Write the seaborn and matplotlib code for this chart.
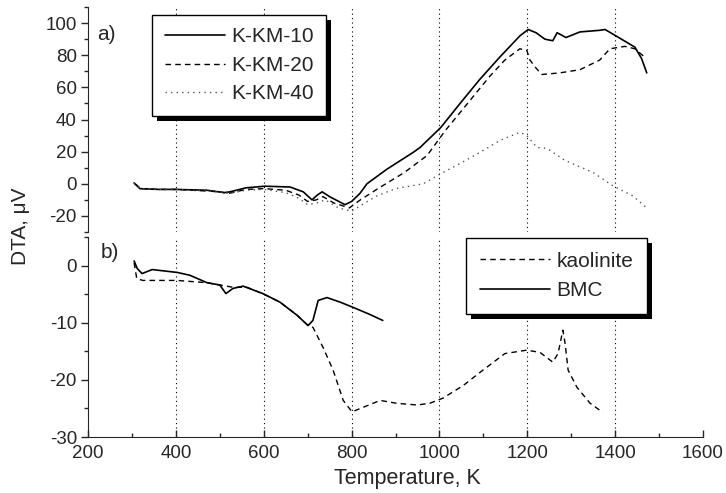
import numpy as np
import pandas as pd
import matplotlib
matplotlib.use('Agg')
import matplotlib.pyplot as plt
import seaborn as sns
from matplotlib.patches import Rectangle
from matplotlib.ticker import MultipleLocator

# panel a) DTA curves
kkm10_T = [305, 318, 360, 400, 470, 510, 523, 560, 603, 660, 690, 710, 722, 733, 750, 785,
           800, 819, 835, 880, 940, 956, 1003, 1047, 1092, 1138, 1183, 1202, 1220, 1240, 1258,
           1268, 1288, 1320, 1365, 1377, 1402, 1445, 1460, 1472]
kkm10_v = [0.5, -3, -3.5, -3.5, -4, -5.5, -5, -2.5, -1.5, -2, -5, -10, -7, -5, -8, -13,
           -11, -6, 0, 9, 19.5, 22.6, 35, 50, 65, 79, 92, 96, 94, 90, 89,
           94, 91, 94.5, 95.5, 96, 92, 85, 78, 69]

kkm20_T = [305, 320, 360, 400, 470, 500, 520, 560, 600, 650, 680, 700, 720, 735, 760, 795,
           820, 860, 920, 972, 1013, 1070, 1115, 1149, 1183, 1199, 1206, 1220, 1233, 1274,
           1320, 1365, 1388, 1422, 1445, 1468]
kkm20_v = [0.5, -3, -3.5, -3.5, -4.5, -5, -6, -3.5, -3, -4, -7, -11, -10, -8, -12, -15,
           -10, -3, 7, 17.6, 33, 52, 67, 77, 84, 83, 77, 72, 68, 69,
           71, 77, 84, 85.5, 84, 78.6]

kkm40_T = [305, 320, 360, 400, 470, 500, 520, 560, 600, 650, 680, 700, 720, 740, 770, 800,
           830, 858, 900, 963, 1001, 1047, 1092, 1138, 1183, 1199, 1222, 1245, 1286, 1350,
           1395, 1440, 1472]
kkm40_v = [0.5, -3, -3.5, -3.5, -4.5, -5, -6, -4, -3.5, -5.5, -9, -13, -12, -10, -15, -17,
           -12, -7.5, -3, 0, 6, 12.6, 19.5, 27, 32, 30, 22.6, 22, 14.5, 7,
           -1.3, -7.5, -15]

# panel b) DTA curves
kaol_T = [305, 311, 325, 403, 471, 530, 562, 600, 637, 676, 701, 712, 735, 758, 781, 801,
          865, 903, 949, 978, 1008, 1054, 1099, 1149, 1199, 1229, 1258, 1270, 1281, 1286,
          1293, 1313, 1343, 1372]
kaol_v = [0.5, -2.3, -2.6, -2.6, -3, -3.8, -3.8, -5, -6.4, -8.7, -10.5, -10.8, -14.3, -18.3,
          -23.6, -25.6, -23.6, -24.1, -24.4, -24.1, -23.2, -21, -18.3, -15.4, -14.8, -15.2,
          -16.9, -15.4, -11.3, -13.6, -18.3, -21.3, -24.1, -25.7]

bmc_T = [305, 312, 323, 346, 403, 432, 471, 500, 514, 530, 553, 598, 637, 676, 701, 712, 724,
         744, 774, 803, 840, 871]
bmc_v = [0.8, -0.5, -1.4, -0.7, -1.2, -1.7, -3, -3.4, -4.9, -4, -3.6, -4.9, -6.4, -8.7, -10.5,
         -9.6, -6.1, -5.6, -6.4, -7.3, -8.5, -9.6]

top_labels = ['K-KM-10', 'K-KM-20', 'K-KM-40']
bot_labels = ['kaolinite', 'BMC']

sns.set_style('ticks')
plt.rcParams['font.family'] = ['Liberation Sans', 'DejaVu Sans']
plt.rcParams['axes.unicode_minus'] = False

fig = plt.figure(figsize=(7.26, 4.93), dpi=100)
W, H = 726, 493
ax1 = fig.add_axes([88 / W, 1 - 232 / H, 615 / W, 225 / H])
ax2 = fig.add_axes([88 / W, 1 - 437 / H, 615 / W, 200 / H])

styles = {'solid': dict(ls='-', lw=1.2, color='black'),
          'dash': dict(ls=(0, (4, 3)), lw=1.0, color='black'),
          'dot': dict(ls=(0, (1, 3)), lw=1.0, color='#555555')}

for T, v, lab, st in zip([kkm10_T, kkm20_T, kkm40_T], [kkm10_v, kkm20_v, kkm40_v],
                         top_labels, ['solid', 'dash', 'dot']):
    sns.lineplot(x=T, y=v, ax=ax1, label=lab, estimator=None, sort=False, **styles[st])

for T, v, lab, st in zip([kaol_T, bmc_T], [kaol_v, bmc_v], bot_labels, ['dash', 'solid']):
    sns.lineplot(x=T, y=v, ax=ax2, label=lab, estimator=None, sort=False, **styles[st])

for ax in (ax1, ax2):
    ax.set_xlim(200, 1600)
    for xv in [400, 600, 800, 1000, 1200, 1400]:
        ax.axvline(xv, color='black', ls=(0, (1, 3)), lw=0.8, zorder=0)
    for s in ['top', 'right']:
        ax.spines[s].set_visible(False)
    ax.set_facecolor('none')
    ax.tick_params(axis='y', direction='out', labelsize=13.5, length=5, width=1, pad=3)
    ax.tick_params(axis='y', which='minor', direction='out', length=3, width=1)
    ax.set_ylabel('')
    ax.set_xlabel('')

ax1.set_ylim(-30, 110)
ax1.spines['bottom'].set_visible(False)
ax1.yaxis.set_minor_locator(MultipleLocator(10))
ax1.set_yticks([-20, 0, 20, 40, 60, 80, 100])
ax1.tick_params(axis='x', which='both', bottom=False, labelbottom=False)

ax2.set_ylim(-30, 5)
ax2.set_yticks([-30, -20, -10, 0])
ax2.yaxis.set_minor_locator(MultipleLocator(5))
ax2.xaxis.set_major_locator(MultipleLocator(200))
ax2.xaxis.set_minor_locator(MultipleLocator(100))
ax2.tick_params(axis='x', direction='in', labelsize=13.5, length=5, width=1, pad=6)
ax2.tick_params(axis='x', which='minor', direction='in', length=3, width=1)
ax2.set_xlabel('Temperature, K', fontsize=15.5)
ax2.xaxis.set_label_coords(0.52, -0.155)

fig.text(20 / W, 1 - 226 / H, 'DTA, \u03bcV', rotation=90, va='center', ha='center', fontsize=15)
ax1.text(0.015, 0.876, 'a)', transform=ax1.transAxes, fontsize=15, va='center')
ax2.text(0.02, 0.92, 'b)', transform=ax2.transAxes, fontsize=15, va='center')

leg1 = ax1.legend(loc='upper left', bbox_to_anchor=(152 / W, 1 - 15 / H),
                  bbox_transform=fig.transFigure, borderaxespad=0, fontsize=15,
                  handlelength=2.9, labelspacing=0.45, handletextpad=0.3, borderpad=0.6,
                  fancybox=False, framealpha=1, edgecolor='black')
leg2 = ax2.legend(loc='upper left', bbox_to_anchor=(466 / W, 1 - 238 / H),
                  bbox_transform=fig.transFigure, borderaxespad=0, fontsize=15,
                  handlelength=3.4, labelspacing=0.5, handletextpad=0.3, borderpad=0.65,
                  fancybox=False, framealpha=1, edgecolor='black')
for leg in (leg1, leg2):
    leg.get_frame().set_linewidth(1.0)

fig.canvas.draw()
for leg, ax in ((leg1, ax1), (leg2, ax2)):
    bb = leg.get_window_extent()
    inv = fig.transFigure.inverted()
    (x0, y0), (x1, y1) = inv.transform([(bb.x0 + 5, bb.y0 - 5), (bb.x1 + 5, bb.y1 - 5)])
    rect = Rectangle((x0, y0), x1 - x0, y1 - y0, transform=fig.transFigure,
                     facecolor='black', edgecolor='none', zorder=4)
    ax.add_artist(rect)
    leg.set_zorder(5)

fig.savefig('out.png', dpi=100)
